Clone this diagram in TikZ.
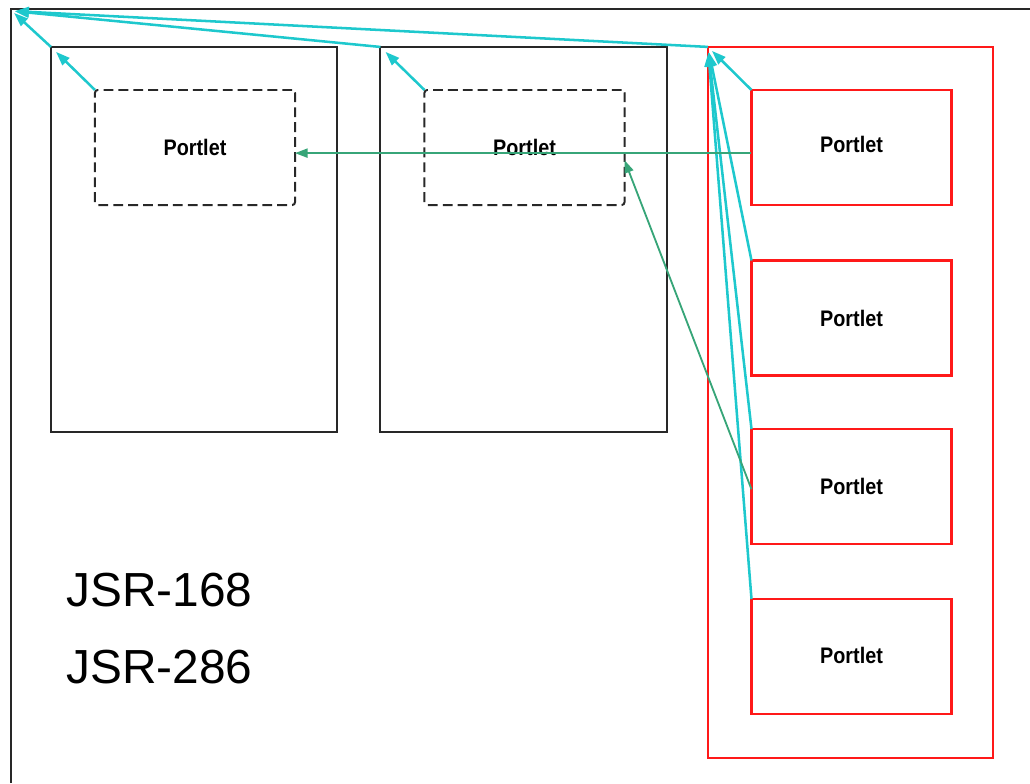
\documentclass[tikz,border=0pt]{standalone}
\usepackage{fontspec}
\setmainfont{Liberation Sans}
\usepackage{tikz}
\usetikzlibrary{arrows.meta}

\definecolor{frameblack}{RGB}{40,40,40}
\definecolor{portletred}{RGB}{255,25,25}
\definecolor{eventcyan}{RGB}{30,200,205}
\definecolor{eventgreen}{RGB}{55,165,120}

\tikzset{
  page/.style={draw=frameblack, line width=1.4pt, inner sep=0pt, outer sep=0pt,
    minimum width=7.15cm, minimum height=9.625cm},
  portlet/.style={inner sep=0pt, outer sep=0pt, minimum width=5cm, minimum height=2.875cm,
    font=\bfseries\fontsize{16}{18}\selectfont},
  localportlet/.style={portlet, draw=frameblack, line width=1.4pt, rounded corners=2pt,
    dash pattern=on 7pt off 3.6pt},
  remoteportlet/.style={portlet, draw=portletred, line width=1.5pt},
  cyanarrow/.style={eventcyan, line width=1.8pt, -{Triangle[length=10pt,width=7pt]}},
  greenarrow/.style={eventgreen, line width=1.3pt, -{Triangle[length=9pt,width=6.5pt]}}
}

\newcommand{\portletlabel}{\scalebox{0.88}[1]{Portlet}}

\begin{document}
\begin{tikzpicture}[x=0.025cm, y=-0.025cm]
        \useasboundingbox (0,0) rectangle (1030,783);

        % outer frame
        \draw[frameblack, line width=1.4pt] (11,783) -- (11,9) -- (1030,9);
        \coordinate (corner) at (12,11);

        % pages
        \node[page] (page1) at (194,239.5) {};
        \node[page] (page2) at (523.5,239.5) {};
        \node[draw=portletred, line width=1.5pt, inner sep=0pt, outer sep=0pt,
          minimum width=7.125cm, minimum height=17.775cm] (remote) at (850.5,402.5) {};

        % portlets
        \node[localportlet] (local1) at (195,147.5) {\portletlabel};
        \node[localportlet] (local2) at (524.5,147.5) {\portletlabel};
        \node[remoteportlet] (red1) at (851.5,147.5) {\raisebox{4pt}{\portletlabel}};
        \node[remoteportlet] (red2) at (851.5,318) {\portletlabel};
        \node[remoteportlet] (red3) at (851.5,486.5) {\portletlabel};
        \node[remoteportlet] (red4) at (851.5,656.5) {\raisebox{2pt}{\portletlabel}};

        % specification labels
        \node[anchor=base west, inner sep=0pt, font=\fontsize{34}{40}\selectfont] (jsr168) at (66,606) {JSR-168};
        \node[anchor=base west, inner sep=0pt, font=\fontsize{34}{40}\selectfont] (jsr286) at (66,683) {JSR-286};

        % events up to the containers
        \draw[cyanarrow, shorten >=5pt] (local1.north west) -- (page1.north west);
        \draw[cyanarrow, shorten >=5pt] (local2.north west) -- (page2.north west);
        \draw[cyanarrow, shorten >=4pt] (red1.north west) -- (remote.north west);
        \foreach \p in {red2,red3,red4}
          \draw[cyanarrow, shorten >=4pt] (\p.north west) -- (remote.north west);
        \foreach \c in {page1,page2,remote}
          \draw[cyanarrow, shorten >=2pt] (\c.north west) -- (corner);

        % events between portlets
        \draw[greenarrow] ([yshift=-4pt]red1.west) -- ([yshift=-4pt]local1.east);
        \draw[greenarrow] ([yshift=-2pt]red3.west) -- ([yshift=-9pt]local2.east);
\end{tikzpicture}
\end{document}
